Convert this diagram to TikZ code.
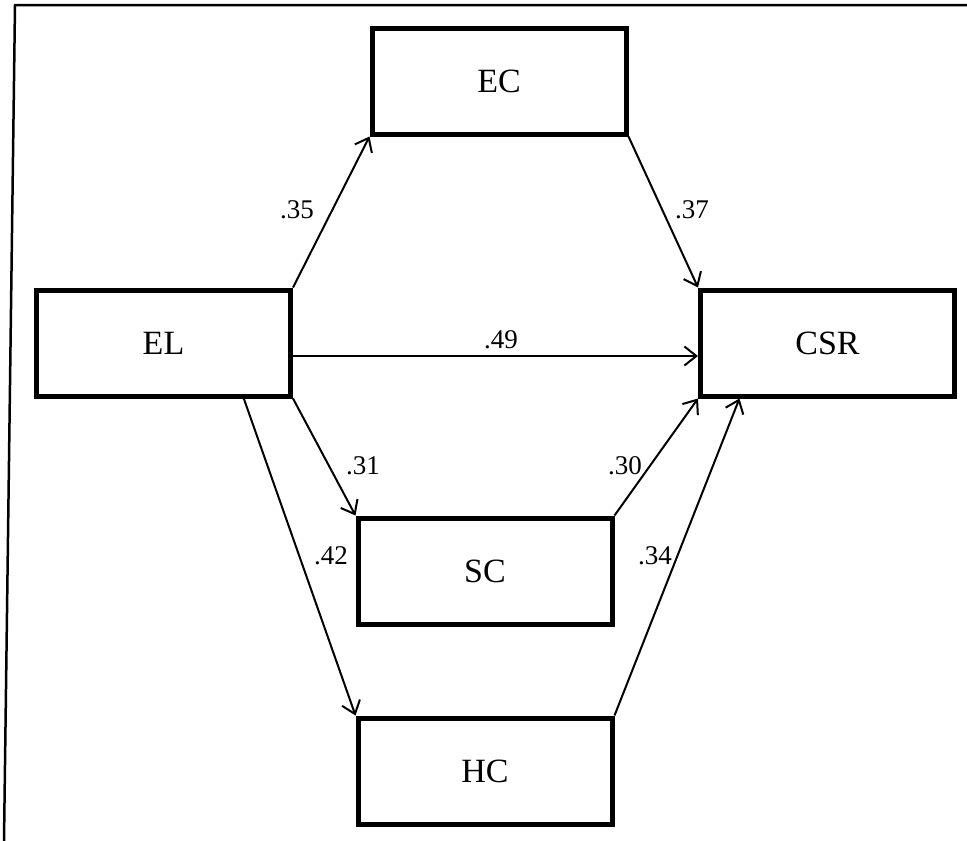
\documentclass[tikz,border=0pt]{standalone}
\usepackage{fontspec}
\setmainfont{Liberation Serif}
\usetikzlibrary{arrows.meta,calc}
\begin{document}
\begin{tikzpicture}[x=1pt,y=-1pt,
  box/.style={draw,line width=5pt,minimum width=254pt,minimum height=106pt,inner sep=0pt,font=\fontsize{34}{39}\selectfont},
  conn/.style={line width=2pt,-{Straight Barb[length=12pt,width=19pt,line width=2pt]}},
  lab/.style={font=\fontsize{27}{31}\selectfont,inner sep=0pt}]
\useasboundingbox (0,0) rectangle (967,841);
\draw[line width=2.5pt] (4,841) -- (15,5) -- (967,5);
\node[box] (ec) at (499,81) {EC};
\node[box] (el) at (163.5,343) {EL};
\node[box] (csr) at (827.5,343) {CSR};
\node[box] (sc) at (485,571) {SC};
\node[box] (hc) at (485,771) {HC};
\coordinate (elb) at ($(el.south west)!0.81!(el.south east)$);
\coordinate (csrb) at ($(csr.south west)!0.16!(csr.south east)$);
\coordinate (ele) at ($(el.east)+(0,13)$);
\coordinate (csrw) at ($(csr.west)+(0,13)$);
\draw[conn] (el.north east) -- (ec.south west);
\draw[conn] (ec.south east) -- (csr.north west);
\draw[conn] (ele) -- (csrw);
\draw[conn] (el.south east) -- (sc.north west);
\draw[conn] (sc.north east) -- (csr.south west);
\draw[conn] (elb) -- (hc.north west);
\draw[conn] (hc.north east) -- (csrb);
\node[lab] (l35) at (297,210) {.35};
\node[lab] (l37) at (692,210) {.37};
\node[lab] (l49) at (501,340) {.49};
\node[lab] (l31) at (363,466) {.31};
\node[lab] (l30) at (625,466) {.30};
\node[lab] (l42) at (331,556) {.42};
\node[lab] (l34) at (655,556) {.34};
\end{tikzpicture}
\end{document}
